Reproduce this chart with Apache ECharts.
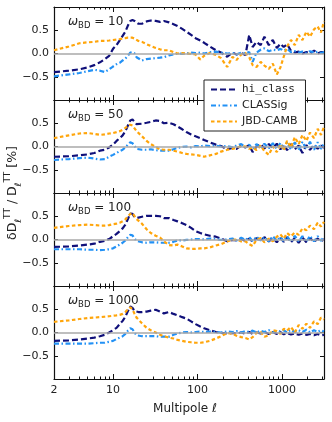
<!DOCTYPE html>
<html>
<head>
<meta charset="utf-8">
<script src="https://cdn.jsdelivr.net/npm/echarts@6/dist/echarts.min.js"></script>
<style>
html, body { margin: 0; padding: 0; background: #fff; }
#chart { width: 332px; height: 422px; }
</style>
</head>
<body>
<div id="chart"></div>
<script>
// multipoles (shared by every curve)
const ells = [2,3,4,5,6,7,8,9,10,11,12,13,14,15,16,17,18,19,20,22,25,28,32,36,40,46,52,58,66,74,84,95,108,120,140,165,190,225,260,290,330,370,410,450,500,560,620,700,780,870,960,1050,1150,1280,1420,1580,1750,1950,2150,2400,2650,2900,3150];

const omegaLabels = ['10', '50', '100', '1000'];

// one row per panel (omega_BD = 10, 50, 100, 1000), values in %
const hiClass = [
  [-0.40,-0.37,-0.34,-0.30,-0.25,-0.19,-0.12,-0.05,0.10,0.18,0.28,0.38,0.47,0.60,0.70,0.72,0.70,0.66,0.64,0.64,0.69,0.71,0.70,0.68,0.70,0.67,0.63,0.59,0.53,0.47,0.40,0.33,0.28,0.23,0.15,0.07,0.02,-0.07,0.02,-0.02,0.01,-0.03,0.40,0.14,0.25,0.18,0.36,0.18,0.29,0.12,0.21,0.14,0.20,0.06,0.02,0.04,0.00,0.03,0.00,0.06,0.00,0.03,0.03],
  [-0.22,-0.21,-0.19,-0.17,-0.14,-0.09,-0.07,-0.02,0.04,0.12,0.18,0.24,0.33,0.45,0.56,0.58,0.53,0.48,0.47,0.49,0.51,0.53,0.56,0.55,0.50,0.51,0.48,0.43,0.37,0.31,0.26,0.22,0.18,0.14,0.09,0.04,0.01,-0.06,-0.03,-0.05,0.02,-0.02,0.03,-0.12,0.00,0.05,-0.04,0.05,-0.03,0.06,-0.06,0.04,-0.08,0.05,-0.06,0.02,-0.14,0.03,-0.07,0.04,-0.05,0.02,-0.03],
  [-0.16,-0.15,-0.13,-0.11,-0.09,-0.05,-0.03,0.01,0.07,0.12,0.18,0.24,0.32,0.44,0.56,0.55,0.48,0.46,0.47,0.49,0.51,0.51,0.51,0.50,0.46,0.46,0.42,0.39,0.35,0.31,0.25,0.18,0.14,0.11,0.08,0.06,0.02,-0.04,-0.01,-0.02,0.01,-0.03,0.02,-0.05,0.03,-0.03,0.05,-0.04,0.04,-0.06,0.03,-0.05,0.05,-0.06,0.03,-0.07,0.04,-0.06,0.03,-0.05,0.02,-0.04,0.01],
  [-0.18,-0.17,-0.15,-0.13,-0.11,-0.08,-0.05,0.00,0.05,0.10,0.18,0.25,0.34,0.46,0.56,0.53,0.46,0.43,0.44,0.44,0.45,0.47,0.49,0.45,0.41,0.44,0.40,0.37,0.33,0.30,0.24,0.18,0.13,0.09,0.05,0.01,-0.01,-0.02,-0.01,-0.02,0.00,-0.03,0.01,-0.03,0.00,-0.02,0.01,-0.03,0.01,-0.03,0.01,-0.04,-0.01,-0.04,-0.02,-0.05,-0.02,-0.05,-0.03,-0.06,-0.03,-0.06,-0.05]
];

const classig = [
  [-0.49,-0.45,-0.42,-0.38,-0.35,-0.37,-0.40,-0.34,-0.28,-0.23,-0.20,-0.15,-0.11,-0.05,0.02,0.03,0.00,-0.08,-0.12,-0.15,-0.12,-0.11,-0.10,-0.09,-0.08,-0.04,-0.02,0.00,-0.01,0.00,0.02,0.01,0.02,0.00,0.03,0.04,0.02,0.00,0.01,-0.02,0.02,0.00,0.03,-0.18,0.02,0.08,0.11,0.05,0.08,0.07,0.10,0.06,0.10,0.03,0.05,0.02,0.04,0.01,0.05,0.02,0.04,0.01,0.03],
  [-0.29,-0.27,-0.25,-0.24,-0.26,-0.28,-0.27,-0.22,-0.18,-0.14,-0.10,-0.07,-0.02,0.04,0.09,0.07,0.01,-0.05,-0.07,-0.07,-0.07,-0.06,-0.08,-0.09,-0.09,-0.09,-0.06,-0.03,-0.01,0.00,-0.02,0.01,0.00,0.02,0.01,0.02,0.00,0.01,-0.02,0.02,0.05,-0.02,0.04,-0.06,0.05,-0.03,0.06,-0.04,0.07,-0.05,0.08,-0.06,0.09,-0.07,0.09,-0.08,0.10,-0.06,0.10,-0.07,0.09,-0.05,0.06],
  [-0.21,-0.21,-0.21,-0.22,-0.22,-0.23,-0.22,-0.21,-0.19,-0.15,-0.11,-0.07,-0.02,0.05,0.10,0.09,0.02,-0.03,-0.05,-0.06,-0.07,-0.06,-0.06,-0.07,-0.07,-0.07,-0.05,-0.02,-0.02,-0.01,0.00,0.01,0.01,0.00,0.02,0.01,-0.01,0.00,0.02,-0.02,0.04,-0.01,0.05,-0.03,0.06,-0.02,0.05,-0.04,0.07,-0.03,0.06,-0.04,0.07,-0.05,0.08,-0.04,0.07,-0.05,0.08,-0.04,0.07,-0.03,0.06],
  [-0.24,-0.24,-0.24,-0.24,-0.23,-0.22,-0.22,-0.20,-0.18,-0.14,-0.11,-0.08,-0.03,0.04,0.09,0.07,0.00,-0.06,-0.08,-0.08,-0.08,-0.08,-0.08,-0.09,-0.09,-0.09,-0.05,-0.02,0.00,0.01,0.00,0.01,0.02,0.01,0.02,0.01,0.00,0.02,0.01,0.03,0.00,0.03,0.01,0.04,0.00,0.04,0.01,0.05,0.00,0.04,0.02,0.05,0.00,0.06,0.01,0.05,0.01,0.06,0.00,0.05,0.01,0.05,0.02]
];

const jbdCamb = [
  [0.07,0.15,0.22,0.24,0.25,0.27,0.27,0.28,0.29,0.30,0.31,0.32,0.33,0.34,0.34,0.34,0.32,0.29,0.27,0.25,0.20,0.16,0.12,0.09,0.07,0.07,0.03,0.00,0.01,0.00,-0.01,-0.02,-0.13,-0.05,0.01,-0.03,-0.10,-0.29,-0.07,-0.14,-0.02,0.01,-0.08,-0.25,-0.29,-0.18,-0.26,-0.33,-0.22,-0.45,-0.30,-0.07,0.15,0.29,0.18,0.40,0.29,0.47,0.36,0.52,0.58,0.45,0.69],
  [0.18,0.24,0.28,0.29,0.27,0.25,0.26,0.28,0.29,0.31,0.33,0.36,0.40,0.44,0.47,0.45,0.39,0.33,0.29,0.22,0.12,0.05,-0.01,-0.06,-0.07,-0.07,-0.09,-0.11,-0.14,-0.16,-0.17,-0.18,-0.20,-0.22,-0.19,-0.16,-0.11,-0.07,-0.05,-0.03,0.01,0.00,-0.05,-0.02,-0.08,0.02,-0.10,-0.18,0.00,-0.12,0.05,-0.08,0.12,-0.02,0.20,0.05,0.25,0.12,0.30,0.18,0.38,0.25,0.42],
  [0.25,0.29,0.31,0.32,0.31,0.30,0.30,0.31,0.33,0.34,0.36,0.39,0.43,0.50,0.55,0.57,0.50,0.44,0.40,0.34,0.22,0.14,0.08,0.04,-0.04,-0.12,-0.13,-0.11,-0.15,-0.19,-0.20,-0.20,-0.19,-0.19,-0.17,-0.13,-0.10,-0.04,-0.01,0.00,-0.04,-0.04,-0.10,-0.14,-0.01,0.03,-0.06,0.02,-0.04,0.06,0.11,0.02,0.14,0.07,0.15,0.10,0.24,0.20,0.30,0.22,0.36,0.28,0.38],
  [0.23,0.26,0.29,0.31,0.32,0.33,0.34,0.35,0.36,0.37,0.38,0.40,0.44,0.50,0.54,0.50,0.40,0.32,0.28,0.20,0.10,0.05,0.00,-0.05,-0.08,-0.11,-0.13,-0.16,-0.18,-0.20,-0.21,-0.22,-0.22,-0.21,-0.18,-0.13,-0.08,-0.01,-0.03,-0.07,-0.10,-0.12,-0.15,-0.10,-0.01,0.01,-0.09,-0.06,0.05,0.03,-0.03,0.08,0.04,0.12,0.00,0.16,0.08,0.19,0.10,0.24,0.18,0.32,0.28]
];

const xTickLabels = [2, 10, 100, 1000];
const xMajorTicks = [10, 100, 1000];
const xMinorTicks = [3,4,5,6,7,8,9,20,30,40,50,60,70,80,90,200,300,400,500,600,700,800,900,2000,3000];
const yTicks = [-0.5, 0, 0.5];

const seriesNames = ['hi_class', 'CLASSig', 'JBD-CAMB'];
const seriesColors = ['#10107a', '#2291f5', '#ffa50a'];
const seriesDash = [[6, 3], [5, 2.5, 1.5, 2.5], [3.5, 2.5]];
const seriesData = [hiClass, classig, jbdCamb];

const font = 'DejaVu Sans';
const panelTop = 7, panelH = 93, plotLeft = 54, plotW = 270;
const xMin = 2, xMax = 3150;

const grids = [], xAxes = [], yAxes = [], series = [], graphics = [];

function xAxis(i, pos, ticks, len, line, labels) {
  return {
    type: 'log', gridIndex: i, position: pos, min: xMin, max: xMax, logBase: 10,
    axisLine: { show: line, onZero: false, lineStyle: { color: '#111', width: 1.2 } },
    axisTick: { show: true, inside: true, length: len, customValues: ticks,
                lineStyle: { color: '#111', width: 1 } },
    axisLabel: labels ? { show: true, customValues: xTickLabels, margin: 6,
                          fontFamily: font, fontSize: 11, color: '#222',
                          formatter: v => String(Math.round(v)) } : { show: false },
    splitLine: { show: false }, minorTick: { show: false }
  };
}

for (let i = 0; i < 4; i++) {
  grids.push({ left: plotLeft, top: panelTop + i * panelH, width: plotW, height: panelH });

  xAxes.push(xAxis(i, 'bottom', xMajorTicks, 5, true, i === 3));
  xAxes.push(xAxis(i, 'bottom', xMinorTicks, 2.5, false, false));
  xAxes.push(xAxis(i, 'top', xMajorTicks, 5, true, false));
  xAxes.push(xAxis(i, 'top', xMinorTicks, 2.5, false, false));

  ['left', 'right'].forEach(pos => {
    yAxes.push({
      type: 'value', gridIndex: i, position: pos, min: -1, max: 1,
      axisLine: { show: true, onZero: false, lineStyle: { color: '#111', width: 1.2 } },
      axisTick: { show: true, inside: true, length: 4, customValues: yTicks,
                  lineStyle: { color: '#111', width: 1 } },
      axisLabel: pos === 'left' ? {
        show: true, customValues: yTicks, margin: 5, fontFamily: font, fontSize: 11, color: '#222',
        formatter: v => (v < 0 ? '\u2212' : '') + Math.abs(v).toFixed(1)
      } : { show: false },
      splitLine: { show: false }
    });
  });

  // zero reference line
  series.push({
    type: 'line', name: 'zero' + i, xAxisIndex: i * 4, yAxisIndex: i * 2, data: [],
    silent: true, z: 1,
    markLine: { silent: true, symbol: 'none', label: { show: false },
                lineStyle: { color: '#a8a8a8', width: 1.5, type: 'solid' },
                data: [{ yAxis: 0 }] }
  });

  for (let s = 0; s < 3; s++) {
    series.push({
      type: 'line', name: seriesNames[s], xAxisIndex: i * 4, yAxisIndex: i * 2,
      data: ells.map((l, k) => [l, seriesData[s][i][k]]),
      symbol: 'none', z: 2 + s, silent: true,
      lineStyle: { color: seriesColors[s], width: 2.2, type: seriesDash[s] },
      itemStyle: { color: seriesColors[s] }
    });
  }

  graphics.push({
    type: 'text', left: 68, top: panelTop + i * panelH + 9, z: 10,
    style: {
      text: '{w|\u03c9}{s|BD}{e| = ' + omegaLabels[i] + '}',
      rich: {
        w: { fontFamily: font, fontStyle: 'italic', fontSize: 12, lineHeight: 17, fill: '#222' },
        s: { fontFamily: font, fontSize: 8.5, lineHeight: 11, verticalAlign: 'bottom', fill: '#222' },
        e: { fontFamily: font, fontSize: 12, lineHeight: 17, fill: '#222' }
      }
    }
  });
}

// y axis title
graphics.push({
  type: 'text', x: 13, y: panelTop + 2 * panelH, rotation: Math.PI / 2, z: 10,
  style: {
    text: '{d|\u03b4D}{b|\u2113}{p|TT}{d| / D}{b|\u2113}{p|TT}{d| [%]}',
    align: 'center', verticalAlign: 'middle',
    rich: {
      d: { fontFamily: font, fontSize: 12.5, lineHeight: 20, fill: '#222' },
      b: { fontFamily: font, fontStyle: 'italic', fontSize: 9, lineHeight: 12, verticalAlign: 'bottom', fill: '#222' },
      p: { fontFamily: font, fontSize: 9, lineHeight: 12, verticalAlign: 'top', fill: '#222' }
    }
  }
});

// x axis title
graphics.push({
  type: 'text', x: plotLeft + plotW / 2 - 4, y: 409, z: 10,
  style: {
    text: '{d|Multipole }{l|\u2113}', align: 'center', verticalAlign: 'middle',
    rich: {
      d: { fontFamily: font, fontSize: 12, fill: '#222' },
      l: { fontFamily: font, fontStyle: 'italic', fontSize: 12, fill: '#222' }
    }
  }
});

const chart = echarts.init(document.getElementById('chart'), null, { renderer: 'canvas' });
chart.setOption({
  animation: false,
  backgroundColor: '#fff',
  grid: grids,
  xAxis: xAxes,
  yAxis: yAxes,
  legend: {
    data: [
      { name: 'hi_class', textStyle: { fontFamily: 'DejaVu Sans Mono' } },
      'CLASSig', 'JBD-CAMB'
    ],
    left: 204, top: 80, orient: 'vertical', z: 20,
    backgroundColor: '#fff', borderColor: '#222', borderWidth: 1, borderRadius: 0,
    padding: [4, 8, 4, 6], itemWidth: 26, itemHeight: 12, itemGap: 5,
    itemStyle: { opacity: 0 },
    textStyle: { fontFamily: font, fontSize: 11, color: '#222' },
    selectedMode: false
  },
  graphic: graphics,
  series: series
});
</script>
</body>
</html>
